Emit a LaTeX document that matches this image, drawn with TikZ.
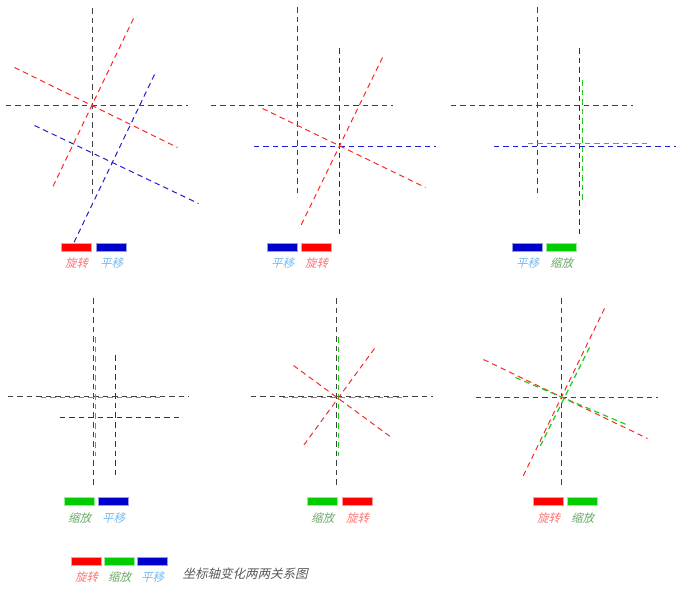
\documentclass[tikz,border=0pt]{standalone}
\usepackage{fontspec}
\newfontfamily\cjk[FakeSlant=0.25]{Noto Sans CJK SC}
\definecolor{rotc}{RGB}{255,0,0}
\definecolor{sclc}{RGB}{0,204,0}
\definecolor{movc}{RGB}{0,0,204}
\definecolor{sclgreen}{RGB}{30,205,30}
\definecolor{movblue}{RGB}{30,30,210}
\begin{document}
\begin{tikzpicture}[x=1pt,y=-1pt,
   base/.style={dash pattern=on 5.5pt off 4pt, line width=1pt},
   axis/.style={base, black!75},
   rotline/.style={base, rotc!85},
   movline/.style={base, movblue},
   sclline/.style={base, sclgreen, line width=1.2pt},
   box/.style={minimum width=30pt, minimum height=8pt, inner sep=0pt, line width=0.5pt},
   rotbox/.style={box, fill=rotc, draw=rotc!40},
   movbox/.style={box, fill=movc, draw=movc!40},
   sclbox/.style={box, fill=sclc, draw=sclc!40},
   txt/.style={font=\cjk\fontsize{11.5}{12}\selectfont, inner sep=0pt},
   rottxt/.style={txt, text=rotc!55},
   movtxt/.style={txt, text=movc!50!cyan!55},
   scltxt/.style={txt, text=sclc!55!black!60}]
\useasboundingbox (0,0) rectangle (680,593);
\begin{scope}[shift={(0.5,0.5)}]

% rotate, then move
\draw[axis] (92,8) -- (92,197);
\draw[axis] (5,105) -- (187,105);
\draw[rotline] (133,18) -- (52,187);
\draw[rotline] (14,67) -- (177,147);
\draw[movline] (154,74) -- (73,243);
\draw[movline] (34,125) -- (198,203);
\node[rotbox] (b11) at (76,247) {};
\node[movbox] (b12) at (111,247) {};
\node[rottxt] (t11) at (76,263) {旋转};
\node[movtxt] (t12) at (111,263) {平移};

% move, then rotate
\draw[axis] (297,7) -- (297,197);
\draw[axis] (210,105) -- (392,105);
\draw[movline] (339,48) -- (339,237);
\draw[movline] (253,146) -- (435,146);
\draw[rotline] (382,57) -- (299,228);
\draw[rotline] (262,108) -- (425,187);
\node[movbox] (b21) at (282,247) {};
\node[rotbox] (b22) at (316,247) {};
\node[movtxt] (t21) at (282,263) {平移};
\node[rottxt] (t22) at (316,263) {旋转};

% move, then scale
\draw[axis] (537,7) -- (537,197);
\draw[axis] (450,105) -- (632,105);
\draw[movline] (579,48) -- (579,237);
\draw[movline] (493,146) -- (675,146);
\draw[sclline] (582,80) -- (582,200);
\draw[sclline] (527,143) -- (647,143);
\node[movbox] (b31) at (527,247) {};
\node[sclbox] (b32) at (561,247) {};
\node[movtxt] (t31) at (527,263) {平移};
\node[scltxt] (t32) at (561,263) {缩放};

% scale, then move
\draw[axis] (93,298) -- (93,487);
\draw[axis] (7,396) -- (188,396);
\draw[sclline] (95,337) -- (95,455);
\draw[sclline] (40,397) -- (160,397);
\draw[movline] (115,355) -- (115,475);
\draw[movline] (59,417) -- (180,417);
\node[sclbox] (b41) at (79,501) {};
\node[movbox] (b42) at (113,501) {};
\node[scltxt] (t41) at (79,518) {缩放};
\node[movtxt] (t42) at (113,518) {平移};

% scale, then rotate
\draw[axis] (336,298) -- (336,487);
\draw[axis] (250,396) -- (432,396);
\draw[sclline] (338,337) -- (338,455);
\draw[sclline] (282,397) -- (402,397);
\draw[rotline] (374,348) -- (303,445);
\draw[rotline] (293,365) -- (391,437);
\node[sclbox] (b51) at (322,501) {};
\node[rotbox] (b52) at (357,501) {};
\node[scltxt] (t51) at (322,518) {缩放};
\node[rottxt] (t52) at (357,518) {旋转};

% rotate, then scale
\draw[axis] (561,298) -- (561,488);
\draw[axis] (475,397) -- (657,397);
\draw[rotline] (604,308) -- (521,479);
\draw[rotline] (483,359) -- (647,438);
\draw[sclline] (589,347) -- (538,449);
\draw[sclline] (515,377) -- (628,425);
\node[rotbox] (b61) at (548,501) {};
\node[sclbox] (b62) at (582,501) {};
\node[rottxt] (t61) at (548,518) {旋转};
\node[scltxt] (t62) at (582,518) {缩放};

% key
\node[rotbox] (k1) at (86,561) {};
\node[sclbox] (k2) at (119,561) {};
\node[movbox] (k3) at (152,561) {};
\node[rottxt] (kt1) at (86,577) {旋转};
\node[scltxt] (kt2) at (119,577) {缩放};
\node[movtxt] (kt3) at (152,577) {平移};
\node[txt, text=black!65, font=\cjk\fontsize{12.5}{13}\selectfont, anchor=west] (title) at (182,573) {坐标轴变化两两关系图};

\end{scope}
\end{tikzpicture}
\end{document}
